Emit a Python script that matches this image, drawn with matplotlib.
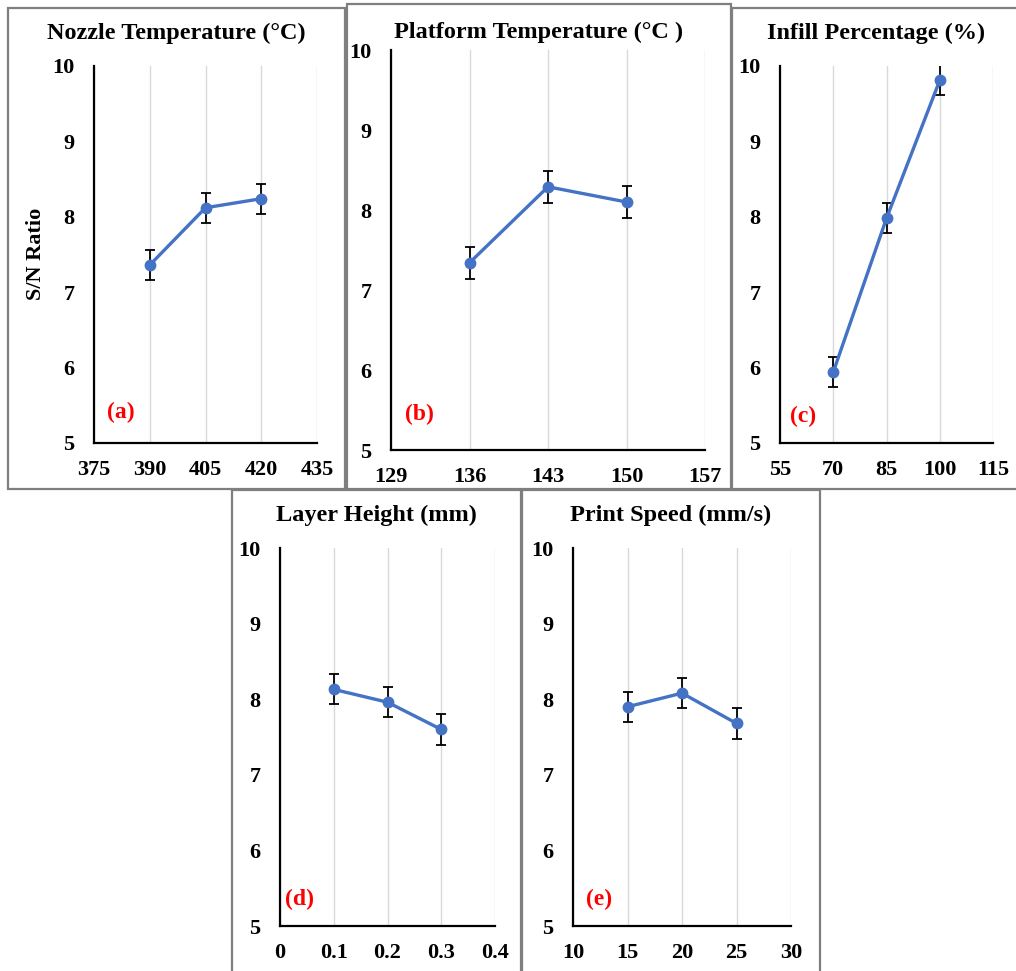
import matplotlib
matplotlib.use("Agg")
import matplotlib.pyplot as plt
from matplotlib.patches import Rectangle

W, H = 1016, 971

# data
nozzle_temp = [390, 405, 420]
nozzle_sn = [7.36, 8.12, 8.24]
platform_temp = [136, 143, 150]
platform_sn = [7.34, 8.29, 8.10]
infill_pct = [70, 85, 100]
infill_sn = [5.94, 7.98, 9.81]
layer_height = [0.1, 0.2, 0.3]
layer_sn = [8.13, 7.96, 7.60]
print_speed = [15, 20, 25]
speed_sn = [7.90, 8.08, 7.68]
sn_error = 0.2

nozzle_ticks = [375, 390, 405, 420, 435]
platform_ticks = [129, 136, 143, 150, 157]
infill_ticks = [55, 70, 85, 100, 115]
layer_ticks = [0, 0.1, 0.2, 0.3, 0.4]
speed_ticks = [10, 15, 20, 25, 30]
layer_tick_labels = ["0", "0.1", "0.2", "0.3", "0.4"]

titles = ["Nozzle Temperature (°C)", "Platform Temperature (°C )",
          "Infill Percentage (%)", "Layer Height (mm)", "Print Speed (mm/s)"]
panel_tags = ["(a)", "(b)", "(c)", "(d)", "(e)"]
y_ticks = [5, 6, 7, 8, 9, 10]

plt.rcParams["font.family"] = ["Liberation Serif", "DejaVu Serif"]
plt.rcParams["font.weight"] = "bold"

fig = plt.figure(figsize=(W / 100, H / 100), dpi=100)


def px_box(left, top, right, bottom):
    return [left / W, 1 - bottom / H, (right - left) / W, (bottom - top) / H]


# pixel layouts: axes box, frame box, title y, tag position
panels = [
    (nozzle_temp, nozzle_sn, nozzle_ticks, None,
     (94, 66, 317, 443), (8, 8, 345, 489), 33, (0.12, 0.08)),
    (platform_temp, platform_sn, platform_ticks, None,
     (391, 50, 705, 450), (347, 4, 731, 489), 32, (0.09, 0.09)),
    (infill_pct, infill_sn, infill_ticks, None,
     (780, 66, 993, 443), (732, 8, 1020, 489), 33, (0.11, 0.07)),
    (layer_height, layer_sn, layer_ticks, layer_tick_labels,
     (280, 548, 495, 926), (232, 490, 521, 975), 515, (0.09, 0.07)),
    (print_speed, speed_sn, speed_ticks, None,
     (573, 548, 791, 926), (522, 490, 820, 975), 515, (0.12, 0.07)),
]

for i, (xs, ys, xt, xtl, abox, fbox, ty, tag_pos) in enumerate(panels):
    fl, ft, fr, fb = fbox
    fig.add_artist(Rectangle((fl / W, 1 - fb / H), (fr - fl) / W, (fb - ft) / H,
                             transform=fig.transFigure, fill=False,
                             edgecolor="#7f7f7f", linewidth=1.6))
    fig.text((fl + fr) / 2 / W, 1 - ty / H, titles[i], ha="center", va="center",
             fontsize=17.5, fontweight="bold")

    ax = fig.add_axes(px_box(*abox))
    ax.errorbar(xs, ys, yerr=sn_error, color="#4472C4", linewidth=2.4,
                marker="o", markersize=7.5, ecolor="black", elinewidth=1.3,
                capsize=3.5, capthick=1.3, zorder=3)
    ax.set_xlim(xt[0], xt[-1])
    ax.set_ylim(5, 10)
    ax.set_xticks(xt)
    if xtl is not None:
        ax.set_xticklabels(xtl)
    ax.set_yticks(y_ticks)
    ax.tick_params(length=0, labelsize=16)
    ax.tick_params(axis="y", pad=14)
    ax.tick_params(axis="x", pad=12)
    for lab in ax.get_xticklabels() + ax.get_yticklabels():
        lab.set_fontweight("bold")
    ax.grid(axis="x", color="#d9d9d9", linewidth=1)
    ax.set_axisbelow(True)
    for side in ("top", "right"):
        ax.spines[side].set_visible(False)
    for side in ("left", "bottom"):
        ax.spines[side].set_linewidth(1.6)
        ax.spines[side].set_color("black")
    ax.text(tag_pos[0], tag_pos[1], panel_tags[i], transform=ax.transAxes,
            ha="center", va="center", color="red", fontsize=17,
            fontweight="bold")
    if i == 0:
        fig.text(36 / W, 1 - 254 / H, "S/N Ratio", rotation=90, ha="center",
                 va="center", fontsize=16, fontweight="bold")

fig.savefig("out.png", dpi=100)
